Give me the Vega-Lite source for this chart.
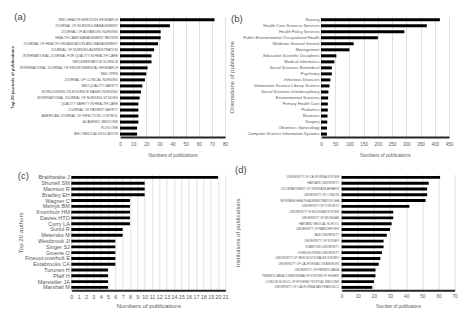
{
  "$schema": "https://vega.github.io/schema/vega-lite/v6.json",
  "padding": {"left": 4, "top": 11.7, "right": 4, "bottom": 4},
  "background": "white",
  "config": {
    "view": {"stroke": null},
    "font": "Liberation Sans",
    "axis": {"labelFont": "Liberation Sans", "titleFont": "Liberation Sans", "labelColor": "#595959", "titleColor": "#595959", "titleFontWeight": "normal"},
    "axisX": {"grid": true, "gridColor": "#d9d9d9", "gridWidth": 0.8, "domainColor": "#262626", "domainWidth": 2, "ticks": false, "labelFlush": false, "labelOverlap": false, "labelPadding": 4, "titlePadding": 7},
    "axisY": {"grid": false, "ticks": false, "domainColor": "#d9d9d9", "domainWidth": 0.8, "labelPadding": 2.5, "labelLimit": 300},
    "title": {"anchor": "start", "frame": "bounds", "offset": 0, "baseline": "middle", "fontSize": 9.5, "fontWeight": "normal", "color": "#404040", "font": "Liberation Sans"}
  },
  "datasets": {
    "spacer": [{"k": 1}],
    "journals": [
      {"name": "BMC HEALTH SERVICES RESEARCH", "value": 72},
      {"name": "JOURNAL OF NURSING MANAGEMENT", "value": 38},
      {"name": "JOURNAL OF ADVANCED NURSING", "value": 31},
      {"name": "HEALTH CARE MANAGEMENT REVIEW", "value": 31},
      {"name": "JOURNAL OF HEALTH ORGANIZATION AND MANAGEMENT", "value": 29},
      {"name": "JOURNAL OF NURSING ADMINISTRATION", "value": 26},
      {"name": "INTERNATIONAL JOURNAL FOR QUALITY IN HEALTH CARE", "value": 24},
      {"name": "IMPLEMENTATION SCIENCE", "value": 24},
      {"name": "INTERNATIONAL JOURNAL OF ENVIRONMENTAL RESEARCH", "value": 21},
      {"name": "BMJ OPEN", "value": 20},
      {"name": "JOURNAL OF CLINICAL NURSING", "value": 19},
      {"name": "BMJ QUALITY SAFETY", "value": 17},
      {"name": "WORLDVIEWS ON EVIDENCE BASED NURSING", "value": 16},
      {"name": "INTERNATIONAL JOURNAL OF NURSING STUDIES", "value": 15},
      {"name": "QUALITY SAFETY IN HEALTH CARE", "value": 14},
      {"name": "JOURNAL OF PATIENT SAFETY", "value": 14},
      {"name": "AMERICAN JOURNAL OF INFECTION CONTROL", "value": 14},
      {"name": "ACADEMIC MEDICINE", "value": 14},
      {"name": "PLOS ONE", "value": 13},
      {"name": "BMC MEDICAL EDUCATION", "value": 13}
    ],
    "orientations": [
      {"name": "Nursing", "value": 418},
      {"name": "Health Care Sciences Services", "value": 372},
      {"name": "Health Policy Services", "value": 293},
      {"name": "Public Environmental Occupational Health", "value": 200},
      {"name": "Medicine General Internal", "value": 115},
      {"name": "Management", "value": 100},
      {"name": "Education Scientific Disciplines", "value": 54},
      {"name": "Medical Informatics", "value": 47},
      {"name": "Social Sciences Biomedical", "value": 38},
      {"name": "Psychiatry", "value": 38},
      {"name": "Infectious Diseases", "value": 33},
      {"name": "Information Science Library Science", "value": 30},
      {"name": "Social Sciences Interdisciplinary", "value": 26},
      {"name": "Environmental Sciences", "value": 25},
      {"name": "Primary Health Care", "value": 24},
      {"name": "Pediatrics", "value": 24},
      {"name": "Business", "value": 23},
      {"name": "Surgery", "value": 22},
      {"name": "Obstetrics Gynecology", "value": 21},
      {"name": "Computer Science Information Systems", "value": 21}
    ],
    "authors": [
      {"name": "Braithwaite J", "value": 20},
      {"name": "Shortell SM", "value": 10},
      {"name": "Mannion R", "value": 10},
      {"name": "Bradley EH", "value": 10},
      {"name": "Wagner C", "value": 8},
      {"name": "Melnyk BM", "value": 8},
      {"name": "Krumholz HM", "value": 8},
      {"name": "Davies HTO", "value": 8},
      {"name": "Curry LA", "value": 8},
      {"name": "Sunol R", "value": 7},
      {"name": "Metersko M", "value": 7},
      {"name": "Westbrook JI", "value": 6},
      {"name": "Singer SJ", "value": 6},
      {"name": "Groene O", "value": 6},
      {"name": "Fineout-overholt E", "value": 6},
      {"name": "Estabrooks CA", "value": 6},
      {"name": "Turunen H", "value": 5},
      {"name": "Pfaff H", "value": 5},
      {"name": "Marsteller JA", "value": 5},
      {"name": "Marshall M", "value": 5}
    ],
    "institutions": [
      {"name": "UNIVERSITY OF CALIFORNIA SYSTEM", "value": 61},
      {"name": "HARVARD UNIVERSITY", "value": 54},
      {"name": "US DEPARTMENT OF VETERANS AFFAIRS", "value": 53},
      {"name": "UNIVERSITY OF LONDON", "value": 53},
      {"name": "VETERANS HEALTH ADMINISTRATION VHA", "value": 52},
      {"name": "UNIVERSITY OF TORONTO", "value": 42},
      {"name": "UNIVERSITY OF MICHIGAN SYSTEM", "value": 32},
      {"name": "UNIVERSITY OF MICHIGAN", "value": 32},
      {"name": "HARVARD MEDICAL SCHOOL", "value": 31},
      {"name": "UNIVERSITY OF MANCHESTER", "value": 30},
      {"name": "YALE UNIVERSITY", "value": 28},
      {"name": "UNIVERSITY OF SYDNEY", "value": 26},
      {"name": "STANFORD UNIVERSITY", "value": 26},
      {"name": "JOHNS HOPKINS UNIVERSITY", "value": 25},
      {"name": "UNIVERSITY OF NEW SOUTH WALES SYDNEY", "value": 24},
      {"name": "UNIVERSITY OF CALIFORNIA LOS ANGELES", "value": 23},
      {"name": "UNIVERSITY OF PENNSYLVANIA", "value": 21},
      {"name": "PENNSYLVANIA COMMONWEALTH SYSTEM OF HIGHER", "value": 21},
      {"name": "LONDON SCHOOL OF HYGIENE TROPICAL MEDICINE", "value": 20},
      {"name": "UNIVERSITY OF CALIFORNIA SAN FRANCISCO", "value": 19}
    ]
  },
  "columns": 1,
  "align": "none",
  "spacing": 6.8,
  "concat": [
    {
      "spacing": 1,
      "hconcat": [
        {
          "width": 5, "height": 1,
          "data": {"name": "spacer"},
          "mark": {"type": "rect", "opacity": 0}
        },
        {
          "width": 105, "height": 120.4,
          "title": {"text": "(a)", "dx": 4.3, "dy": 9},
          "data": {"name": "journals"},
          "mark": {"type": "bar", "color": "#000000"},
          "encoding": {
            "y": {"field": "name", "type": "nominal", "sort": null,
                  "scale": {"paddingInner": 0.5, "paddingOuter": 0.25},
                  "axis": {"title": "Top 20 journals of publications", "labelFontSize": 3.4, "minExtent": 100, "maxExtent": 100, "titlePadding": 6, "titleFontSize": 4.3, "titleFontWeight": "bold", "titleColor": "#404040"}},
            "x": {"field": "value", "type": "quantitative",
                  "scale": {"domain": [0, 80], "nice": false},
                  "axis": {"values": [0, 10, 20, 30, 40, 50, 60, 70, 80], "title": "Numbers of publications", "labelFontSize": 4.6, "titleFontSize": 4.6}}
          }
        },
        {
          "width": 128, "height": 120.4,
          "title": {"text": "(b)", "dx": 2, "dy": 11},
          "data": {"name": "orientations"},
          "mark": {"type": "bar", "color": "#000000"},
          "encoding": {
            "y": {"field": "name", "type": "nominal", "sort": null,
                  "scale": {"paddingInner": 0.5, "paddingOuter": 0.25},
                  "axis": {"title": "Orientations of publications", "labelFontSize": 4.1, "labelPadding": 2, "minExtent": 80, "maxExtent": 80, "titlePadding": 6, "titleFontSize": 6}},
            "x": {"field": "value", "type": "quantitative",
                  "scale": {"domain": [0, 450], "nice": false},
                  "axis": {"values": [0, 50, 100, 150, 200, 250, 300, 350, 400, 450], "title": "Numbers of publications", "labelFontSize": 4.6, "titleFontSize": 4.7}}
          }
        }
      ]
    },
    {
      "spacing": 6.3,
      "hconcat": [
        {
          "width": 6.7, "height": 1,
          "data": {"name": "spacer"},
          "mark": {"type": "rect", "opacity": 0}
        },
        {
          "width": 154, "height": 115.8,
          "title": {"text": "(c)", "dx": 0, "dy": 10},
          "data": {"name": "authors"},
          "mark": {"type": "bar", "color": "#000000"},
          "encoding": {
            "y": {"field": "name", "type": "nominal", "sort": null,
                  "scale": {"paddingInner": 0.5, "paddingOuter": 0.25},
                  "axis": {"title": "Top 20 authors", "labelFontSize": 5.5, "labelPadding": 2, "minExtent": 46, "maxExtent": 46, "titlePadding": 1.5, "titleFontSize": 6.2}},
            "x": {"field": "value", "type": "quantitative",
                  "scale": {"domain": [0, 21], "nice": false},
                  "axis": {"values": [0, 1, 2, 3, 4, 5, 6, 7, 8, 9, 10, 11, 12, 13, 14, 15, 16, 17, 18, 19, 20, 21], "title": "Numbers of publications", "labelFontSize": 5.4, "titleFontSize": 6, "titlePadding": 3}}
          }
        },
        {
          "width": 113, "height": 115.8,
          "title": {"text": "(d)", "dx": 0, "dy": 4},
          "data": {"name": "institutions"},
          "mark": {"type": "bar", "color": "#000000"},
          "encoding": {
            "y": {"field": "name", "type": "nominal", "sort": null,
                  "scale": {"paddingInner": 0.5, "paddingOuter": 0.25},
                  "axis": {"title": "Institutions of publications", "labelFontSize": 2.9, "labelPadding": 3, "minExtent": 95, "maxExtent": 95, "titlePadding": 5.6, "titleFontSize": 6}},
            "x": {"field": "value", "type": "quantitative",
                  "scale": {"domain": [0, 70], "nice": false},
                  "axis": {"values": [0, 10, 20, 30, 40, 50, 60, 70], "title": "Number of publicaions", "labelFontSize": 4.6, "labelPadding": 3, "titleFontSize": 4.5, "titlePadding": 6}}
          }
        }
      ]
    }
  ]
}
